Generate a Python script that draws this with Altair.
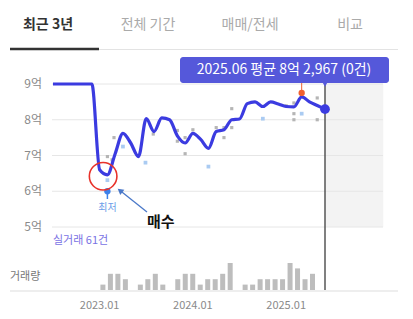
import altair as alt
import pandas as pd

FONT = "Noto Sans CJK KR"

# ---- data (month index: 0 = 2023.01) ----
line_idx = list(range(-6, 30))
line_val = [9.0, 9.0, 9.0, 9.0, 9.0, 9.0,
            6.6, 6.46, 7.05, 7.62, 7.35, 6.97, 8.03, 7.67, 8.05, 8.0, 7.55, 7.35,
            7.62, 7.45, 7.2, 7.67, 7.72, 8.0, 8.02, 8.45, 8.5, 8.37, 8.5, 8.44,
            8.37, 8.36, 8.64, 8.5, 8.4, 8.2967]

vol_idx = [0, 1, 2, 3, 5, 6, 7, 8, 10, 11, 12, 13, 14, 15, 16, 17,
           19, 20, 21, 22, 23, 24, 25, 26, 27, 28]
vol_cnt = [1, 3, 3, 2, 1, 2, 3, 1, 2, 3, 3, 1, 2, 2, 3, 5,
           1, 1, 2, 2, 2, 2, 5, 4, 2, 3]

gray_idx = [1.0, 1.6, 1.85, 6.9, 10.0, 10.0, 11.0, 11.0, 12.0, 15.0, 16.0, 16.0,
            17.0, 17.0, 24.0, 25.0, 25.0, 25.0, 28.0, 28.0]
gray_val = [6.97, 6.88, 7.5, 7.6, 7.7, 7.4, 7.5, 7.05, 7.72, 7.78, 7.78, 7.5,
            8.31, 7.78, 8.39, 8.47, 8.17, 8.0, 8.61, 8.0]

blue_idx = [1.0, 3.0, 5.9, 14.0, 21.0, 26.0]
blue_val = [6.31, 7.25, 6.8, 6.69, 8.03, 8.17]

ytick_vals = [5, 6, 7, 8, 9]
ytick_labels = ["5억", "6억", "7억", "8억", "9억"]
xtick_idx = [0, 12, 24]
xtick_labels = ["2023.01", "2024.01", "2025.01"]

min_idx, min_val = 1.0, 6.0
max_idx, max_val = 26.0, 8.75
cur_idx, cur_val = 29, 8.2967
tooltip_text = "2025.06 평균 8억 2,967 (0건)"

tab_labels = ["최근 3년", "전체 기간", "매매/전세", "비교"]

# ---- scales ----
xs = alt.Scale(domain=[-6, 29], range=[53, 325])
ys = alt.Scale(domain=[5, 9], range=[227, 84])
vs = alt.Scale(domain=[0, 5], range=[290, 263])

line_df = pd.DataFrame({"idx": line_idx, "val": line_val})
vol_df = pd.DataFrame({"idx": vol_idx, "cnt": vol_cnt})
gray_df = pd.DataFrame({"idx": gray_idx, "val": gray_val})
blue_df = pd.DataFrame({"idx": blue_idx, "val": blue_val})
ytick_df = pd.DataFrame({"v": ytick_vals, "t": ytick_labels})
xtick_df = pd.DataFrame({"idx": xtick_idx, "t": xtick_labels})
one = pd.DataFrame({"a": [0]})

layers = []

# shaded future area
layers.append(alt.Chart(pd.DataFrame({"x": [cur_idx], "x2": [36.5], "y": [5], "y2": [9.02]}))
              .mark_rect(color="#f3f3f3")
              .encode(x=alt.X("x:Q", scale=xs, axis=None), x2="x2:Q",
                      y=alt.Y("y:Q", scale=ys, axis=None), y2="y2:Q"))

# gridlines
layers.append(alt.Chart(ytick_df).mark_rule(color="#e6e6e6", strokeWidth=1)
              .encode(y=alt.Y("v:Q", scale=ys, axis=None),
                      x=alt.value(52), x2=alt.value(383)))

# y labels
layers.append(alt.Chart(ytick_df).mark_text(align="right", baseline="middle", font=FONT,
                                            fontSize=12, color="#8a8a8a")
              .encode(y=alt.Y("v:Q", scale=ys, axis=None), x=alt.value(42), text="t:N"))

# current vertical line
layers.append(alt.Chart(pd.DataFrame({"x": [cur_idx]})).mark_rule(color="#4a4a4a", strokeWidth=1.4)
              .encode(x=alt.X("x:Q", scale=xs, axis=None), y=alt.value(84), y2=alt.value(290)))

# volume bars
layers.append(alt.Chart(vol_df).mark_bar(color="#bdbdbd", size=5)
              .encode(x=alt.X("idx:Q", scale=xs, axis=None),
                      y=alt.Y("cnt:Q", scale=vs, axis=None), y2=alt.datum(0)))

# baseline
layers.append(alt.Chart(one).mark_rule(color="#dddddd", strokeWidth=1)
              .encode(y=alt.value(291), x=alt.value(10), x2=alt.value(398)))

# x labels
layers.append(alt.Chart(xtick_df).mark_text(align="center", baseline="middle", font=FONT,
                                            fontSize=11, color="#8a8a8a")
              .encode(x=alt.X("idx:Q", scale=xs, axis=None), y=alt.value(306), text="t:N"))

# trade dots
layers.append(alt.Chart(gray_df).mark_square(color="#b5b5b5", size=10, opacity=1)
              .encode(x=alt.X("idx:Q", scale=xs, axis=None), y=alt.Y("val:Q", scale=ys, axis=None)))
layers.append(alt.Chart(blue_df).mark_square(color="#aacbf2", size=14, opacity=1)
              .encode(x=alt.X("idx:Q", scale=xs, axis=None), y=alt.Y("val:Q", scale=ys, axis=None)))

# main line
layers.append(alt.Chart(line_df).mark_line(color="#3b3be0", strokeWidth=3.2, interpolate="monotone")
              .encode(x=alt.X("idx:Q", scale=xs, axis=None), y=alt.Y("val:Q", scale=ys, axis=None)))

# current dot
layers.append(alt.Chart(pd.DataFrame({"idx": [cur_idx], "val": [cur_val]}))
              .mark_circle(color="#3b3be0", size=95, opacity=1)
              .encode(x=alt.X("idx:Q", scale=xs, axis=None), y=alt.Y("val:Q", scale=ys, axis=None)))

# max marker
max_df = pd.DataFrame({"idx": [max_idx], "val": [max_val]})
layers.append(alt.Chart(max_df).mark_rule(color="#f06030", strokeWidth=1)
              .encode(x=alt.X("idx:Q", scale=xs, axis=None), y=alt.Y("val:Q", scale=ys, axis=None),
                      y2=alt.value(83)))
layers.append(alt.Chart(max_df).mark_circle(color="#f06030", size=40, opacity=1)
              .encode(x=alt.X("idx:Q", scale=xs, axis=None), y=alt.Y("val:Q", scale=ys, axis=None)))

# min marker
min_df = pd.DataFrame({"idx": [min_idx], "val": [min_val]})
layers.append(alt.Chart(min_df).mark_rule(color="#3d80ea", strokeWidth=1.5)
              .encode(x=alt.X("idx:Q", scale=xs, axis=None), y=alt.Y("val:Q", scale=ys, axis=None),
                      y2=alt.value(199)))
layers.append(alt.Chart(min_df).mark_circle(color="#3d80ea", size=40, opacity=1)
              .encode(x=alt.X("idx:Q", scale=xs, axis=None), y=alt.Y("val:Q", scale=ys, axis=None)))
layers.append(alt.Chart(min_df).mark_text(text="최저", font=FONT, fontSize=10, color="#6b9de8",
                                          baseline="middle")
              .encode(x=alt.X("idx:Q", scale=xs, axis=None), y=alt.value(208)))

# red circle annotation
layers.append(alt.Chart(pd.DataFrame({"idx": [0.45], "val": [6.42]}))
              .mark_point(shape="circle", size=760, filled=False, color="#e8322a", strokeWidth=1.6,
                          opacity=1)
              .encode(x=alt.X("idx:Q", scale=xs, axis=None), y=alt.Y("val:Q", scale=ys, axis=None)))

# arrow
layers.append(alt.Chart(one).mark_rule(color="#4a78c8", strokeWidth=1.3)
              .encode(x=alt.value(147), y=alt.value(212), x2=alt.value(120), y2=alt.value(190.5)))
layers.append(alt.Chart(one).mark_point(shape="triangle-up", size=45, filled=True, color="#4a78c8",
                                        angle=308, opacity=1)
              .encode(x=alt.value(120), y=alt.value(190.5)))

layers.append(alt.Chart(one).mark_text(text="매수", font=FONT, fontSize=15, fontWeight="bold",
                                       color="#111111", align="left", baseline="middle")
              .encode(x=alt.value(147), y=alt.value(222)))

# 실거래 / 거래량
layers.append(alt.Chart(one).mark_text(text="실거래 61건", font=FONT, fontSize=11, color="#7a72e4",
                                       align="left", baseline="middle")
              .encode(x=alt.value(53), y=alt.value(241)))
layers.append(alt.Chart(one).mark_text(text="거래량", font=FONT, fontSize=11, color="#777777",
                                       align="left", baseline="middle")
              .encode(x=alt.value(10), y=alt.value(277)))

# tooltip box
layers.append(alt.Chart(one).mark_rect(color="#5558da", cornerRadius=3)
              .encode(x=alt.value(180), x2=alt.value(389), y=alt.value(57), y2=alt.value(83)))
layers.append(alt.Chart(pd.DataFrame({"idx": [cur_idx]}))
              .mark_point(shape="triangle-down", size=40, filled=True, color="#5558da", opacity=1)
              .encode(x=alt.X("idx:Q", scale=xs, axis=None), y=alt.value(84)))
layers.append(alt.Chart(one).mark_text(text=tooltip_text, font=FONT, fontSize=14, color="#ffffff",
                                       align="center", baseline="middle")
              .encode(x=alt.value(284), y=alt.value(70)))

# tabs
layers.append(alt.Chart(one).mark_text(text=tab_labels[0], font=FONT, fontSize=14, fontWeight="bold",
                                       color="#333333", align="center", baseline="middle")
              .encode(x=alt.value(48), y=alt.value(25)))
for lbl, px in zip(tab_labels[1:], [148, 250, 350]):
    layers.append(alt.Chart(one).mark_text(text=lbl, font=FONT, fontSize=14,
                                           color="#aaaaaa", align="center", baseline="middle")
                  .encode(x=alt.value(px), y=alt.value(25)))
layers.append(alt.Chart(one).mark_rule(color="#e3e3e3", strokeWidth=1)
              .encode(y=alt.value(49.5), x=alt.value(10), x2=alt.value(398)))
layers.append(alt.Chart(one).mark_rule(color="#333333", strokeWidth=2.5)
              .encode(y=alt.value(49), x=alt.value(10), x2=alt.value(99)))

chart = alt.layer(*layers).resolve_scale(y="independent", x="independent").properties(
    width=413, height=319, padding=0, autosize=alt.AutoSizeParams(type="none"),
    background="#ffffff"
).configure_view(stroke=None)

chart.save("out.html", embed_options={"renderer": "svg", "actions": False})
